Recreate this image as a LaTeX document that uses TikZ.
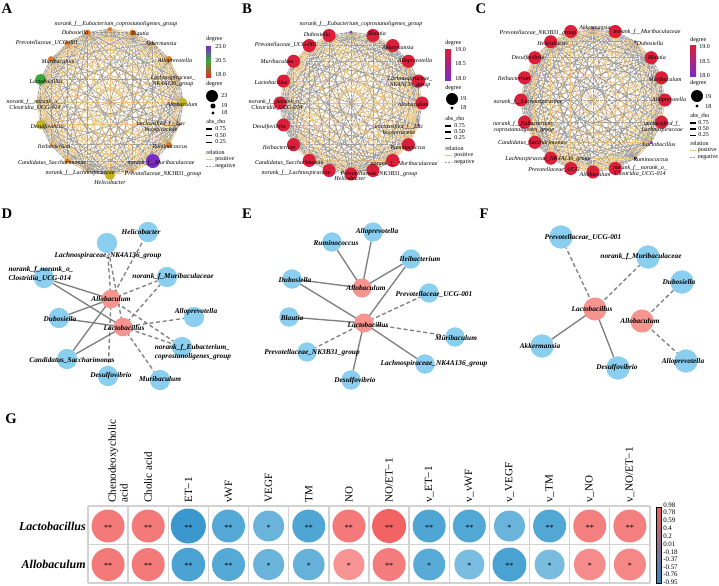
\documentclass[tikz,border=0pt]{standalone}
\usepackage{fontspec}
\setmainfont{Liberation Serif}
\usetikzlibrary{calc}
\definecolor{orN}{HTML}{E8781E}
\definecolor{olN}{HTML}{C6B41F}
\definecolor{yeN}{HTML}{D2C21A}
\definecolor{grN}{HTML}{3DA63A}
\definecolor{puN}{HTML}{7A2BC4}
\definecolor{rdN}{HTML}{E0302A}
\definecolor{crN}{HTML}{DB1F3A}
\definecolor{posE}{HTML}{E9C27F}
\definecolor{negE}{HTML}{9C9C9C}
\definecolor{skyN}{HTML}{8ACEF0}
\definecolor{pinkN}{HTML}{F79490}
\definecolor{edgeG}{HTML}{7F7F7F}
\definecolor{gridC}{HTML}{D2D2D2}
\definecolor{cbRed}{HTML}{F25A5A}
\definecolor{cbBlue}{HTML}{2E86C1}
\newcommand{\ringcoords}[4]{\foreach \k in {0,...,19}{\coordinate (#1\k) at ({#2+#4*cos(90-18*\k)},{#3-#4*sin(90-18*\k)});}}
\newcommand{\ringedges}[2]{%
  \foreach \i in {0,...,18}{%
    \pgfmathtruncatemacro{\jst}{\i+1}%
    \foreach \j in {\jst,...,19}{%
      \pgfmathtruncatemacro{\myt}{mod(\i*\i*7+\j*\j*3+\i*\j+#2,11)}%
      \ifnum\myt<5 \draw[posedge] (#1\i)--(#1\j);\else\draw[negedge] (#1\i)--(#1\j);\fi
    }}}
\newcommand{\gcell}[6]{%
  \definecolor{tmpc}{HTML}{#5}%
  \fill[tmpc] ({88+40.14*(#1-0.5)},#3) circle[radius={#4*0.75pt}];
  \node[stars] (st#2#1) at ({88+40.14*(#1-0.5)},{#3+1.5}) {#6};}
\newcommand{\hdr}[2]{\node[hd] (hd#1) at ({88+40.14*(#1-0.5)},503) {#2};}
\begin{document}
\begin{tikzpicture}[x=0.75pt,y=-0.75pt,
  tl/.style={font=\fontsize{4.5}{4.9}\selectfont\itshape, inner sep=0pt, align=center},
  lg/.style={font=\fontsize{4.5}{5}\selectfont, inner sep=0pt, anchor=west},
  posedge/.style={draw=posE, line width=0.55pt},
  negedge/.style={draw=negE, line width=0.65pt, dash pattern=on 2.5pt off 0.6pt},
  dotn/.style={circle, inner sep=0pt, outer sep=0pt},
  bl/.style={circle, fill=skyN, inner sep=0pt, minimum size=15pt},
  pk/.style={circle, fill=pinkN, inner sep=0pt, minimum size=14pt},
  nl/.style={font=\fontsize{5.5}{6.3}\selectfont\bfseries\itshape, inner sep=0pt, align=center},
  se/.style={draw=edgeG, line width=1pt},
  de/.style={draw=edgeG, line width=1pt, dash pattern=on 3pt off 2pt},
  letter/.style={font=\fontsize{11}{12}\selectfont\bfseries, inner sep=0pt},
  hd/.style={font=\fontsize{8.3}{8.8}\selectfont, rotate=90, anchor=west, inner sep=0pt, align=left},
  rl/.style={font=\fontsize{9}{10}\selectfont\bfseries\itshape, anchor=east, inner sep=0pt},
  stars/.style={font=\fontsize{6}{6}\selectfont, inner sep=0pt},
  cb/.style={font=\fontsize{5.2}{5.5}\selectfont, anchor=west, inner sep=0pt}
]
\useasboundingbox (0,0) rectangle (719,586);
\fill[white] (0,0) rectangle (719,586);

% ---------------- panel letters
\node[letter] (LA) at (7,9) {A};
\node[letter] (LB) at (247,9) {B};
\node[letter] (LC) at (481,9) {C};
\node[letter] (LD) at (7,214) {D};
\node[letter] (LE) at (247,214) {E};
\node[letter] (LF) at (484,214) {F};
\node[letter] (LG) at (11,419) {G};

% ================= Panel A
\ringcoords{a}{110}{102}{73}
\ringedges{a}{0}
\foreach \k/\c/\s in {0/orN/3,1/orN/4.5,2/orN/2.2,3/orN/4.5,4/orN/2.2,5/olN/6,6/rdN/2.2,7/orN/4.5,8/puN/10.5,9/orN/2.2,10/olN/7.5,11/orN/2.2,12/orN/3.8,13/orN/2.2,14/olN/6.8,15/yeN/2.2,16/grN/8.3,17/orN/4.5,18/orN/3.8,19/orN/4.5}{\node[dotn, fill=\c, minimum size=\s pt] (an\k) at (a\k) {};}
\node[tl] (al0) at (116,24) {norank\_f\_\_Eubacterium\_coprostanoligenes\_group};
\node[tl] (al1) at (140,33) {Blautia};
\node[tl] (al2) at (161,43) {Akkermansia};
\node[tl] (al3) at (175,61) {Alloprevotella};
\node[tl] (al4) at (173,81) {Lachnospiraceae\_\\NK4A136\_group};
\node[tl] (al5) at (182,104) {Allobaculum};
\node[tl] (al6) at (161,127) {unclassified\_f\_\_Lac\\hnospiraceae};
\node[tl] (al7) at (170,147) {Ruminococcus};
\node[tl] (al8) at (161,163) {norank\_f\_\_Muribaculaceae};
\node[tl] (al9) at (163,174) {Prevotellaceae\_NK3B31\_group};
\node[tl] (al10) at (110,182) {Helicobacter};
\node[tl] (al11) at (80,173) {norank\_f\_\_Lachnospiraceae};
\node[tl] (al12) at (52,163) {Candidatus\_Saccharimonas};
\node[tl] (al13) at (54,146) {Ileibacterium};
\node[tl] (al14) at (47,127) {Desulfovibrio};
\node[tl] (al15) at (35,105) {norank\_f\_\_norank\_o\_\_\\Clostridia\_UCG-014};
\node[tl] (al16) at (46,81) {Lactobacillus};
\node[tl] (al17) at (58,61) {Muribaculum};
\node[tl] (al18) at (47,43) {Prevotellaceae\_UCG-001};
\node[tl] (al19) at (75,32) {Dubosiella};
% legend A
\node[lg] (ag1) at (206,39) {degree};
\shade[top color=puN, bottom color=grN] (206,46) rectangle (211,61);
\shade[top color=grN, middle color=orN, bottom color=rdN] (206,61) rectangle (211,77);
\node[lg] (ag2) at (215,47) {23.0};
\node[lg] (ag3) at (215,61) {20.5};
\node[lg] (ag4) at (215,75) {18.0};
\node[lg] (ag5) at (206,84) {degree};
\node[dotn, fill=black, minimum size=9pt] (ag6) at (212,96) {};
\node[dotn, fill=black, minimum size=3.8pt] (ag7) at (213,106) {};
\node[dotn, fill=black, minimum size=2.4pt] (ag8) at (213,113) {};
\node[lg] (ag9) at (221,96) {23};
\node[lg] (ag10) at (221,106) {19};
\node[lg] (ag11) at (221,113) {18};
\node[lg] (ag12) at (206,122) {abs\_rho};
\coordinate (ax1) at (206,129); \coordinate (ax2) at (212,129);
\coordinate (ax3) at (206,135.5); \coordinate (ax4) at (212,135.5);
\coordinate (ax5) at (206,142); \coordinate (ax6) at (212,142);
\draw[line width=1.3pt] (ax1)--(ax2); \draw[line width=1pt] (ax3)--(ax4); \draw[line width=0.7pt] (ax5)--(ax6);
\node[lg] (ag13) at (215,129) {0.75};
\node[lg] (ag14) at (215,135.5) {0.50};
\node[lg] (ag15) at (215,142) {0.25};
\node[lg] (ag16) at (206,152) {relation};
\coordinate (ax7) at (206,159); \coordinate (ax8) at (213,159);
\coordinate (ax9) at (206,166); \coordinate (ax10) at (213,166);
\draw[posedge, line width=0.7pt] (ax7)--(ax8); \draw[negedge, dash pattern=on 1.5pt off 1pt] (ax9)--(ax10);
\node[lg] (ag17) at (215,159) {positive};
\node[lg] (ag18) at (215,166) {negative};

% ================= Panel B
\ringcoords{b}{351}{103}{71}
\ringedges{b}{3}
\foreach \k/\c/\s in {0/puN/2.2,1/crN/9.8,2/crN/9.8,3/crN/9.8,4/crN/9.8,5/crN/9.8,6/puN/2.2,7/crN/9.8,8/crN/9.8,9/crN/9.8,10/crN/9.8,11/crN/9.8,12/crN/9.8,13/crN/9.8,14/crN/9.8,15/crN/9.8,16/crN/9.8,17/crN/9.8,18/crN/9.8,19/crN/9.8}{\node[dotn, fill=\c, minimum size=\s pt] (bn\k) at (b\k) {};}
\node[tl] (bl0) at (361,24) {norank\_f\_\_Eubacterium\_coprostanoligenes\_group};
\node[tl] (bl1) at (377,33) {Blautia};
\node[tl] (bl2) at (398,47) {Akkermansia};
\node[tl] (bl3) at (415,61) {Alloprevotella};
\node[tl] (bl4) at (410,82) {Lachnospiraceae\_\\NK4A136\_group};
\node[tl] (bl5) at (413,104) {Allobaculum};
\node[tl] (bl6) at (399,130) {unclassified\_f\_\_Lac\\hnospiraceae};
\node[tl] (bl7) at (408,148) {Ruminococcus};
\node[tl] (bl8) at (404,164) {norank\_f\_\_Muribaculaceae};
\node[tl] (bl9) at (379,174) {Prevotellaceae\_NK3B31\_group};
\node[tl] (bl10) at (350,178) {Helicobacter};
\node[tl] (bl11) at (296,173) {norank\_f\_\_Lachnospiraceae};
\node[tl] (bl12) at (289,163) {Candidatus\_Saccharimonas};
\node[tl] (bl13) at (279,147) {Ileibacterium};
\node[tl] (bl14) at (269,127) {Desulfovibrio};
\node[tl] (bl15) at (277,105) {norank\_f\_\_norank\_o\_\_\\Clostridia\_UCG-014};
\node[tl] (bl16) at (271,82) {Lactobacillus};
\node[tl] (bl17) at (277,61) {Muribaculum};
\node[tl] (bl18) at (286,45) {Prevotellaceae\_UCG-001};
\node[tl] (bl19) at (317,34) {Dubosiella};
% legend B
\node[lg] (bg1) at (445,43) {degree};
\shade[top color=crN, bottom color=puN] (445,49) rectangle (451,80);
\node[lg] (bg2) at (455,50) {19.0};
\node[lg] (bg3) at (455,64) {18.5};
\node[lg] (bg4) at (455,79) {18.0};
\node[lg] (bg5) at (445,88) {degree};
\node[dotn, fill=black, minimum size=9pt] (bg6) at (452,99) {};
\node[dotn, fill=black, minimum size=2.4pt] (bg7) at (452,108) {};
\node[lg] (bg8) at (460,99) {19};
\node[lg] (bg9) at (460,108) {18};
\node[lg] (bg10) at (445,119) {abs\_rho};
\coordinate (bx1) at (445,126); \coordinate (bx2) at (451,126);
\coordinate (bx3) at (445,132); \coordinate (bx4) at (451,132);
\coordinate (bx5) at (445,138); \coordinate (bx6) at (451,138);
\draw[line width=1.3pt] (bx1)--(bx2); \draw[line width=1pt] (bx3)--(bx4); \draw[line width=0.7pt] (bx5)--(bx6);
\node[lg] (bg11) at (454,126) {0.75};
\node[lg] (bg12) at (454,132) {0.50};
\node[lg] (bg13) at (454,138) {0.25};
\node[lg] (bg14) at (445,148) {relation};
\coordinate (bx7) at (445,155); \coordinate (bx8) at (452,155);
\coordinate (bx9) at (445,162); \coordinate (bx10) at (452,162);
\draw[posedge, line width=0.7pt] (bx7)--(bx8); \draw[negedge, dash pattern=on 1.5pt off 1pt] (bx9)--(bx10);
\node[lg] (bg15) at (454,155) {positive};
\node[lg] (bg16) at (454,162) {negative};

% ================= Panel C
\ringcoords{c}{593}{100}{72}
\ringedges{c}{6}
\foreach \k/\c/\s in {0/puN/2.2,1/crN/9.8,2/puN/2.2,3/crN/9.8,4/crN/9.8,5/crN/9.8,6/crN/9.8,7/puN/2.2,8/puN/2.2,9/crN/9.8,10/crN/9.8,11/crN/9.8,12/crN/9.8,13/crN/9.8,14/crN/9.8,15/crN/9.8,16/crN/9.8,17/crN/9.8,18/crN/9.8,19/crN/9.8}{\node[dotn, fill=\c, minimum size=\s pt] (cn\k) at (c\k) {};}
\node[tl] (cl0) at (595,27) {Akkermansia};
\node[tl] (cl1) at (647,32) {norank\_f\_\_Muribaculaceae};
\node[tl] (cl2) at (650,43) {Dubosiella};
\node[tl] (cl3) at (657,57) {Blautia};
\node[tl] (cl4) at (665,79) {Muribaculum};
\node[tl] (cl5) at (669,100) {Alloprevotella};
\node[tl] (cl6) at (662,127) {unclassified\_f\_\\Lachnospiraceae};
\node[tl] (cl7) at (659,144) {Lactobacillus};
\node[tl] (cl8) at (651,160) {Ruminococcus};
\node[tl] (cl9) at (640,171) {norank\_f\_\_norank\_o\_\\Clostridia\_UCG-014};
\node[tl] (cl10) at (595,174) {Allobaculum};
\node[tl] (cl11) at (554,170) {Prevotellaceae\_UCG};
\node[tl] (cl12) at (548,159) {Lachnospiraceae\_NK4A136\_group};
\node[tl] (cl13) at (532,143) {Candidatus\_Saccharimonas};
\node[tl] (cl14) at (524,127) {norank\_f\_\_Eubacterium\_\\coprostanoligenes\_group};
\node[tl] (cl15) at (528,102) {norank\_f\_\_Lachnospiraceae};
\node[tl] (cl16) at (514,78) {Ileibacterium};
\node[tl] (cl17) at (528,58) {Desulfovibrio};
\node[tl] (cl18) at (553,43) {Helicobacter};
\node[tl] (cl19) at (538,33) {Prevotellaceae\_NK3B31\_group};
% legend C
\node[lg] (cg1) at (690,40) {degree};
\shade[top color=crN, bottom color=puN] (690,45) rectangle (696,76);
\node[lg] (cg2) at (699,47) {19.0};
\node[lg] (cg3) at (699,62) {18.5};
\node[lg] (cg4) at (699,76) {18.0};
\node[lg] (cg5) at (690,83) {degree};
\node[dotn, fill=black, minimum size=9pt] (cg6) at (697,96) {};
\node[dotn, fill=black, minimum size=2.4pt] (cg7) at (697,106) {};
\node[lg] (cg8) at (705,97) {19};
\node[lg] (cg9) at (705,107) {18};
\node[lg] (cg10) at (690,116) {abs\_rho};
\coordinate (cx1) at (690,123); \coordinate (cx2) at (696,123);
\coordinate (cx3) at (690,129); \coordinate (cx4) at (696,129);
\coordinate (cx5) at (690,135); \coordinate (cx6) at (696,135);
\draw[line width=1.3pt] (cx1)--(cx2); \draw[line width=1pt] (cx3)--(cx4); \draw[line width=0.7pt] (cx5)--(cx6);
\node[lg] (cg11) at (698,123) {0.75};
\node[lg] (cg12) at (698,129) {0.50};
\node[lg] (cg13) at (698,135) {0.25};
\node[lg] (cg14) at (690,143) {relation};
\coordinate (cx7) at (690,150); \coordinate (cx8) at (696,150);
\coordinate (cx9) at (690,157); \coordinate (cx10) at (696,157);
\draw[posedge, line width=0.7pt] (cx7)--(cx8); \draw[negedge, dash pattern=on 1.5pt off 1pt] (cx9)--(cx10);
\node[lg] (cg15) at (697.5,150) {positive};
\node[lg] (cg16) at (697.5,157) {negative};

% ================= Panel D
\node[bl] (dHel) at (148,232) {};
\node[bl] (dLac4) at (107,243) {};
\node[bl] (dClo) at (44,278) {};
\node[bl] (dMur) at (167,277) {};
\node[bl] (dAlp) at (194,317) {};
\node[bl] (dDub) at (59,318) {};
\node[bl] (dEub) at (182,347) {};
\node[bl] (dCan) at (67,359) {};
\node[bl] (dDes) at (108,376) {};
\node[bl] (dMbm) at (160,380) {};
\coordinate (dAc) at (111,299);
\coordinate (dLc) at (123,327);
\draw[de] (dAc)--(dLac4); \draw[de] (dAc)--(dHel); \draw[de] (dAc)--(dMur);
\draw[se] (dAc)--(dClo); \draw[se] (dAc)--(dDub); \draw[se] (dAc)--(dCan);
\draw[de] (dAc)--(dDes); \draw[de] (dAc)--(dEub);
\draw[de] (dLc)--(dLac4); \draw[de] (dLc)--(dMur); \draw[de] (dLc)--(dAlp);
\draw[de] (dLc)--(dEub); \draw[de] (dLc)--(dMbm);
\draw[se] (dLc)--(dClo); \draw[se] (dLc)--(dDub); \draw[se] (dLc)--(dCan);
\foreach \n in {dHel,dLac4,dClo,dMur,dAlp,dDub,dEub,dCan,dDes,dMbm}{\node[bl] (\n2) at (\n) {};}
\node[pk] (dAllo) at (dAc) {};
\node[pk] (dLact) at (dLc) {};
\node[nl] (dt1) at (141,232) {Helicobacter};
\node[nl] (dt2) at (108,256) {Lachnospiraceae\_NK4A136\_group};
\node[nl, align=left] (dt3) at (41,274) {norank\_f\_norank\_o\_\\Clostridia\_UCG-014};
\node[nl] (dt4) at (173,277) {norank\_f\_Muribaculaceae};
\node[nl] (dt5) at (111,299) {Allobaculum};
\node[nl] (dt6) at (196,312) {Alloprevotella};
\node[nl] (dt7) at (60,319) {Dubosiella};
\node[nl] (dt8) at (124,328) {Lactobacillus};
\node[nl, align=left] (dt9) at (193,352) {norank\_f\_Eubacterium\_\\coprostanoligenes\_group};
\node[nl] (dt10) at (72,360) {Candidatus\_Saccharimonas};
\node[nl] (dt11) at (111,376) {Desulfovibrio};
\node[nl] (dt12) at (160,379) {Muribaculum};

% ================= Panel E
\coordinate (eAc) at (362,288);
\coordinate (eLc) at (364,323);
\node[bl, minimum size=14.3pt] (eAlp) at (373,232) {};
\node[bl, minimum size=14.3pt] (eRum) at (332,242) {};
\node[bl, minimum size=14.3pt] (eIle) at (411,259) {};
\node[bl, minimum size=14.3pt] (eDub) at (292,279) {};
\node[bl, minimum size=14.3pt] (eUCG) at (429,293) {};
\node[bl, minimum size=14.3pt] (eBla) at (289,317) {};
\node[bl, minimum size=14.3pt] (eMbm) at (455,337) {};
\node[bl, minimum size=14.3pt] (eNK3) at (307,352) {};
\node[bl, minimum size=14.3pt] (eLac4) at (425,364) {};
\node[bl, minimum size=14.3pt] (eDes) at (351,380) {};
\draw[se] (eAc)--(eRum); \draw[se] (eAc)--(eAlp); \draw[se] (eAc)--(eIle); \draw[se] (eAc)--(eDub);
\draw[se] (eLc)--(eDub); \draw[se] (eLc)--(eIle); \draw[de] (eLc)--(eUCG); \draw[se] (eLc)--(eBla);
\draw[de] (eLc)--(eMbm); \draw[de] (eLc)--(eNK3); \draw[se] (eLc)--(eLac4); \draw[se] (eLc)--(eDes);
\foreach \n in {eAlp,eRum,eIle,eDub,eUCG,eBla,eMbm,eNK3,eLac4,eDes}{\node[bl, minimum size=14.3pt] (\n2) at (\n) {};}
\node[pk, minimum size=14.3pt] (eAllo) at (eAc) {};
\node[pk, minimum size=14.3pt] (eLact) at (eLc) {};
\node[nl] (et1) at (377,232) {Alloprevotella};
\node[nl] (et2) at (336,243) {Ruminococcus};
\node[nl] (et3) at (420,259) {Ileibacterium};
\node[nl] (et4) at (295,280) {Dubosiella};
\node[nl] (et5) at (366,288) {Allobaculum};
\node[nl] (et6) at (434,294) {Prevotellaceae\_UCG-001};
\node[nl] (et7) at (292,318) {Blautia};
\node[nl] (et8) at (368,325) {Lactobacillus};
\node[nl] (et9) at (456,338) {Muribaculum};
\node[nl] (et10) at (312,353) {Prevotellaceae\_NK3B31\_group};
\node[nl] (et11) at (434,364) {Lachnospiraceae\_NK4A136\_group};
\node[nl] (et12) at (355,381) {Desulfovibrio};

% ================= Panel F
\coordinate (fLc) at (595,309);
\coordinate (fAc) at (642,321);
\node[bl, minimum size=17.3pt] (fUCG) at (561,237) {};
\node[bl, minimum size=17.3pt] (fMur) at (648,257) {};
\node[bl, minimum size=17.3pt] (fDub) at (682,282) {};
\node[bl, minimum size=17.3pt] (fAkk) at (542,346) {};
\node[bl, minimum size=17.3pt] (fDes) at (618,368) {};
\node[bl, minimum size=17.3pt] (fAlp) at (686,361) {};
\draw[de] (fLc)--(fUCG); \draw[de] (fLc)--(fMur); \draw[se] (fLc)--(fAkk); \draw[se] (fLc)--(fDes);
\draw[de] (fAc)--(fDub); \draw[de] (fAc)--(fAlp);
\foreach \n in {fUCG,fMur,fDub,fAkk,fDes,fAlp}{\node[bl, minimum size=17.3pt] (\n2) at (\n) {};}
\node[pk, minimum size=17.3pt] (fLact) at (fLc) {};
\node[pk, minimum size=17.3pt] (fAllo) at (fAc) {};
\node[nl] (ft1) at (583,237) {Prevotellaceae\_UCG-001};
\node[nl] (ft2) at (641,257) {norank\_f\_Muribaculaceae};
\node[nl] (ft3) at (679,282) {Dubosiella};
\node[nl] (ft4) at (592,309) {Lactobacillus};
\node[nl] (ft5) at (640,321) {Allobaculum};
\node[nl] (ft6) at (540,346) {Akkermansia};
\node[nl] (ft7) at (617,368) {Desulfovibrio};
\node[nl] (ft8) at (683,362) {Alloprevotella};

% ================= Panel G
\foreach \k in {0,...,14}{\draw[gridC, line width=1pt] ({88+40.14*\k},506) -- ({88+40.14*\k},583);}
\foreach \yy in {506,544.5,583}{\draw[gridC, line width=1pt] (88,\yy) -- (650,\yy);}
\node[hd] (hd1) at (118,503) {Chenodeoxycholic\\acid};
\hdr{2}{Cholic acid}
\hdr{3}{ET−1}
\hdr{4}{vWF}
\hdr{5}{VEGF}
\hdr{6}{TM}
\hdr{7}{NO}
\hdr{8}{NO/ET−1}
\hdr{9}{v\_ET−1}
\hdr{10}{v\_vWF}
\hdr{11}{v\_VEGF}
\hdr{12}{v\_TM}
\hdr{13}{v\_NO}
\hdr{14}{v\_NO/ET−1}
\node[rl] (rL) at (86,526) {Lactobacillus};
\node[rl] (rA) at (86,564) {Allobaculum};
% Lactobacillus row
\gcell{1}{L}{526}{16.5}{F47A7A}{**}
\gcell{2}{L}{526}{16.5}{F47A7A}{**}
\gcell{3}{L}{526}{17.5}{3A98CF}{**}
\gcell{4}{L}{526}{16.5}{55A9D6}{**}
\gcell{5}{L}{526}{15.5}{6AB4DB}{*}
\gcell{6}{L}{526}{16.5}{4FA6D5}{**}
\gcell{7}{L}{526}{16.5}{F47A7A}{**}
\gcell{8}{L}{526}{17}{F26363}{**}
\gcell{9}{L}{526}{16.5}{4FA6D5}{**}
\gcell{10}{L}{526}{16.5}{52A8D5}{**}
\gcell{11}{L}{526}{15.5}{6AB4DB}{*}
\gcell{12}{L}{526}{16.5}{52A8D5}{**}
\gcell{13}{L}{526}{16.5}{F47F7F}{**}
\gcell{14}{L}{526}{16.5}{F47F7F}{**}
% Allobaculum row
\gcell{1}{A}{564.5}{16.5}{F47A7A}{**}
\gcell{2}{A}{564.5}{16.5}{F47A7A}{**}
\gcell{3}{A}{564.5}{16.8}{4BA3D3}{**}
\gcell{4}{A}{564.5}{16.5}{55A9D6}{**}
\gcell{5}{A}{564.5}{15.5}{6AB4DB}{*}
\gcell{6}{A}{564.5}{15.8}{66B1D9}{*}
\gcell{7}{A}{564.5}{15.5}{F79393}{*}
\gcell{8}{A}{564.5}{16.5}{F47C7C}{**}
\gcell{9}{A}{564.5}{16}{58ABD6}{*}
\gcell{10}{A}{564.5}{15}{7BBDE0}{*}
\gcell{11}{A}{564.5}{17}{4AA2D2}{**}
\gcell{12}{A}{564.5}{15}{7ABCDF}{*}
\gcell{13}{A}{564.5}{15.8}{F68B8B}{*}
\gcell{14}{A}{564.5}{16}{F58787}{*}
% colorbar
\shade[top color=cbRed, middle color=white, bottom color=cbBlue] (656,507) rectangle (661,583);
\draw[black, line width=0.4pt] (656,507) rectangle (661,583);
\node[cb] (cb1) at (663,505) {0.98};
\node[cb] (cb2) at (663,512.5) {0.78};
\node[cb] (cb3) at (663,520) {0.59};
\node[cb] (cb4) at (663,528) {0.4};
\node[cb] (cb5) at (663,536) {0.2};
\node[cb] (cb6) at (663,544) {0.01};
\node[cb] (cb7) at (663,552.5) {-0.18};
\node[cb] (cb8) at (663,559.5) {-0.37};
\node[cb] (cb9) at (663,567) {-0.57};
\node[cb] (cb10) at (663,574.5) {-0.76};
\node[cb] (cb11) at (663,582) {-0.95};
\end{tikzpicture}
\end{document}
